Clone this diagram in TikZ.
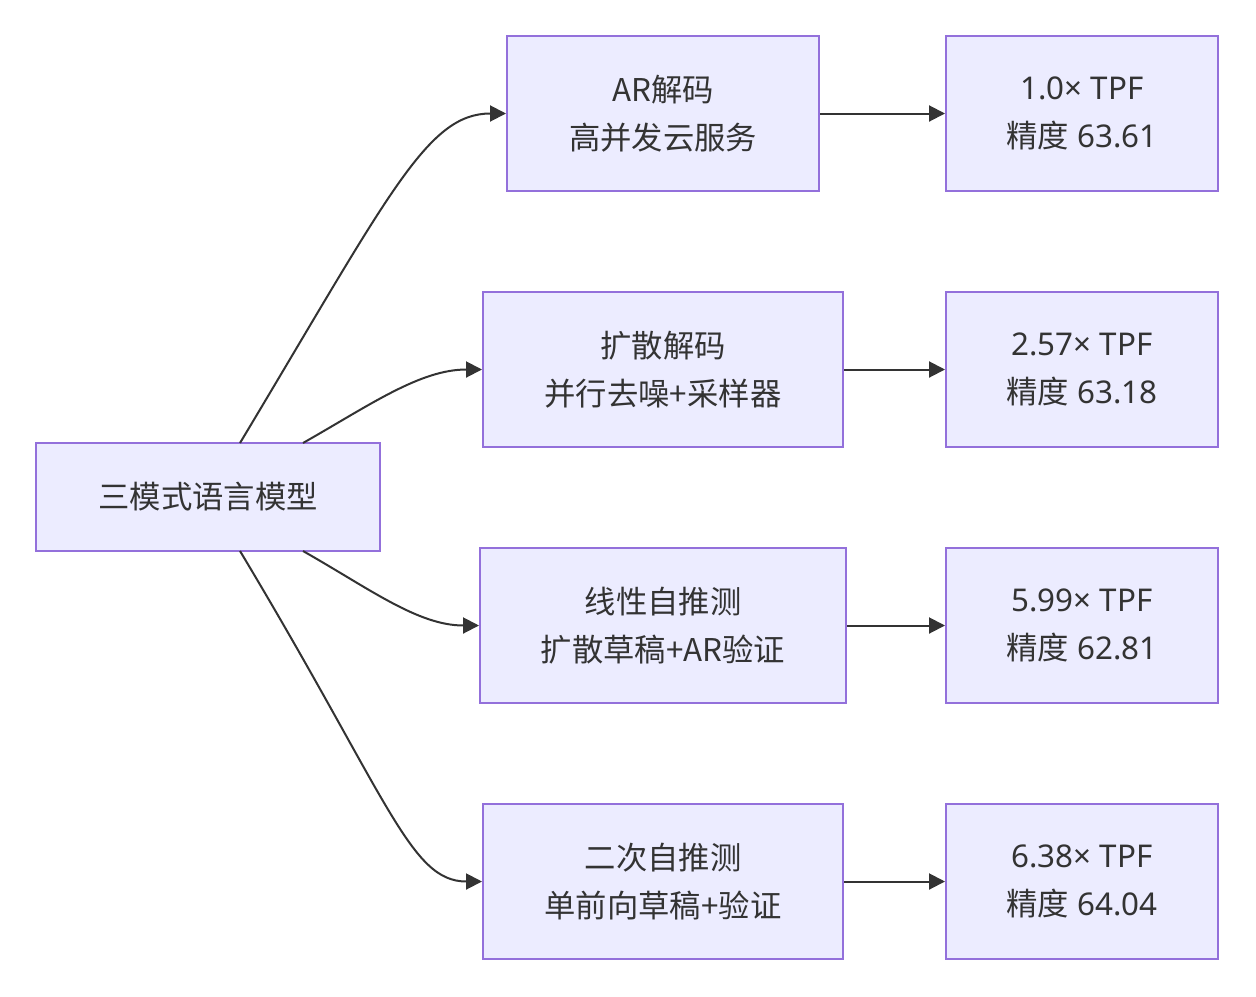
\documentclass[tikz,border=0pt]{standalone}
\usepackage{fontspec}
\setmainfont{Noto Sans CJK SC}
\newfontfamily\lat{Noto Sans}
\usetikzlibrary{arrows.meta}
\newlength\pu \setlength\pu{0.75pt}
\definecolor{boxfill}{HTML}{ECECFF}
\definecolor{boxline}{HTML}{9370DB}
\definecolor{ink}{HTML}{333333}
\tikzset{
  x=0.75pt, y=-0.75pt,
  box/.style={draw=boxline, fill=boxfill, line width=1.5pt, text=ink, align=center,
    font=\fontsize{23.5pt}{36pt}\selectfont, minimum height=155\pu, inner sep=0pt},
  conn/.style={draw=ink, line width=1.5pt, -{Triangle[length=12pt,width=12pt]}},
}
\begin{document}
\begin{tikzpicture}
\useasboundingbox (0,0) rectangle (1256,996);
\node[box, minimum width=344\pu, minimum height=108\pu] (L) at (208,497) {三模式语言模型};
\node[box, minimum width=312\pu] (A) at (663,113.5) {AR解码\\高并发云服务};
\node[box, minimum width=360\pu] (B) at (663,369.5) {扩散解码\\并行去噪+采样器};
\node[box, minimum width=366\pu] (C) at (663,625.5) {线性自推测\\扩散草稿+AR验证};
\node[box, minimum width=360\pu] (D) at (663,881.5) {二次自推测\\单前向草稿+验证};
\node[box, minimum width=272\pu] (A2) at (1082,113.5) {{\lat 1.0× TPF}\\精度{\lat\ 63.61}};
\node[box, minimum width=272\pu] (B2) at (1082,369.5) {{\lat 2.57× TPF}\\精度{\lat\ 63.18}};
\node[box, minimum width=272\pu] (C2) at (1082,625.5) {{\lat 5.99× TPF}\\精度{\lat\ 62.81}};
\node[box, minimum width=272\pu] (D2) at (1082,881.5) {{\lat 6.38× TPF}\\精度{\lat\ 64.04}};
\coordinate (s1) at (240,443);
\coordinate (s2) at (303,443);
\coordinate (s3) at (303,551);
\coordinate (s4) at (240,551);
\draw[conn] (s1) .. controls (390,193) and (427,113.5) .. (A.west);
\draw[conn] (s2) .. controls (370,405) and (420,369.5) .. (B.west);
\draw[conn] (s3) .. controls (370,589) and (418,625.5) .. (C.west);
\draw[conn] (s4) .. controls (390,801) and (410,881.5) .. (D.west);
\draw[conn] (A) -- (A2);
\draw[conn] (B) -- (B2);
\draw[conn] (C) -- (C2);
\draw[conn] (D) -- (D2);
\end{tikzpicture}
\end{document}
